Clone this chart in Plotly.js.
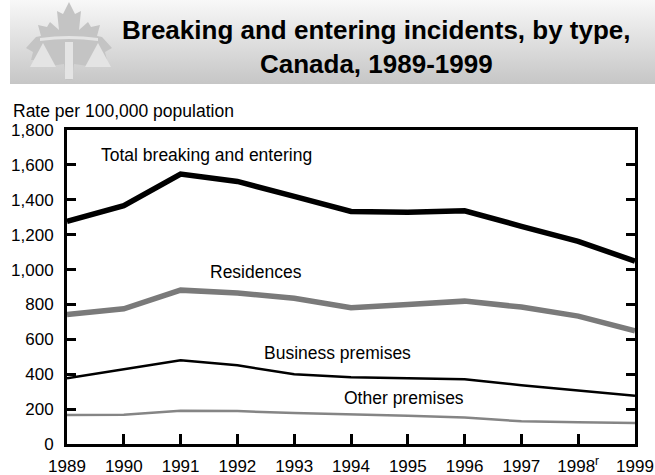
<!DOCTYPE html>
<html>
<head>
<meta charset="utf-8">
<script src="https://cdn.plot.ly/plotly-3.0.1.min.js"></script>
<style>
  html, body { margin: 0; padding: 0; background: #ffffff; }
  #chart { width: 655px; height: 475px; }
</style>
</head>
<body>
<div id="chart"></div>
<script>
// Breaking and entering rates per 100,000 population, Canada
const years = [1989, 1990, 1991, 1992, 1993, 1994, 1995, 1996, 1997, 1998, 1999];
const yearLabels = ['1989', '1990', '1991', '1992', '1993', '1994', '1995', '1996', '1997', '1998<sup>r</sup>', '1999'];
const totalBE = [1276, 1366, 1547, 1505, 1419, 1333, 1328, 1337, 1248, 1162, 1048];
const residences = [743, 775, 882, 866, 835, 781, 800, 819, 785, 733, 648];
const business = [377, 429, 480, 451, 400, 382, 375, 371, 337, 305, 276];
const otherPremises = [166, 168, 190, 189, 177, 171, 162, 152, 130, 124, 120];
const yTickVals = [0, 200, 400, 600, 800, 1000, 1200, 1400, 1600, 1800];
const yTickLabels = ['0', '200', '400', '600', '800', '1,000', '1,200', '1,400', '1,600', '1,800'];

const W = 655, H = 475;
const M = { l: 67, r: 20, t: 130, b: 31 };
const plotW = W - M.l - M.r, plotH = H - M.t - M.b;
const px = x => (x - M.l) / plotW;        // page pixel -> paper x
const py = y => (H - M.b - y) / plotH;    // page pixel -> paper y

const FONT = 'Liberation Sans, Arial, Helvetica, sans-serif';

// Header band: soft grey gradient with the maple-leaf / scales emblem
const headerSvg =
  '<svg xmlns="http://www.w3.org/2000/svg" width="645" height="84" viewBox="0 0 645 84">' +
  '<defs><linearGradient id="g" x1="0" y1="0" x2="0" y2="1">' +
  '<stop offset="0" stop-color="#f8f8f8"/><stop offset="1" stop-color="#c6c6c6"/></linearGradient></defs>' +
  '<rect width="645" height="84" fill="url(#g)"/>' +
  '<g transform="translate(-8,0)">' +
  '<polygon fill="#c4c4c4" points="67,2 73,14 79,11 77,30 86,22 89,27 98,25 95,36 100,37 110,48 103,52 105,60 90,60 86,66 72,64 70,80 64,80 62,64 48,66 44,60 29,60 31,52 24,48 34,37 39,36 36,25 45,27 48,22 57,30 55,11 61,14"/>' +
  '<path fill="#e4e4e4" d="M38,38 Q67,34 96,38 L96,41 Q67,37 38,41 Z"/>' +
  '<rect fill="#e4e4e4" x="63" y="42" width="8" height="37"/>' +
  '<polygon fill="#e4e4e4" points="41,43 28,67 54,67"/>' +
  '<polygon fill="#e4e4e4" points="96,43 83,67 109,67"/>' +
  '</g></svg>';
const headerSrc = 'data:image/svg+xml;charset=utf-8,' + encodeURIComponent(headerSvg);

function series(y, color, width) {
  return {
    x: years, y: y, type: 'scatter', mode: 'lines',
    line: { color: color, width: width, shape: 'linear' },
    hoverinfo: 'skip', showlegend: false
  };
}

const data = [
  series(otherPremises, '#858585', 2.5),
  series(business, '#000000', 2.5),
  series(residences, '#7a7a7a', 5.5),
  series(totalBE, '#000000', 5.5)
];

const labelFont = { family: FONT, size: 17.5, color: '#000000' };
const tickFont = { family: FONT, size: 17, color: '#000000' };

const layout = {
  width: W, height: H,
  margin: M,
  paper_bgcolor: '#ffffff',
  plot_bgcolor: '#ffffff',
  showlegend: false,
  font: { family: FONT, size: 17, color: '#000000' },
  xaxis: {
    range: [1989, 1999],
    tickmode: 'array', tickvals: years, ticktext: yearLabels,
    ticks: 'inside', ticklen: 10, tickwidth: 3, tickcolor: '#000000',
    showline: true, linewidth: 3, linecolor: '#000000', mirror: true,
    showgrid: false, zeroline: false, fixedrange: true,
    ticklabelstandoff: 5,
    tickfont: tickFont
  },
  yaxis: {
    range: [0, 1800],
    tickmode: 'array', tickvals: yTickVals, ticktext: yTickLabels,
    ticks: 'inside', ticklen: 9, tickwidth: 3, tickcolor: '#000000',
    showline: true, linewidth: 3, linecolor: '#000000', mirror: 'ticks',
    showgrid: false, zeroline: false, fixedrange: true,
    ticklabelstandoff: 7,
    tickfont: tickFont
  },
  images: [{
    source: headerSrc, xref: 'paper', yref: 'paper',
    x: px(10), y: py(0), sizex: 645 / plotW, sizey: 84 / plotH,
    xanchor: 'left', yanchor: 'top', sizing: 'stretch', layer: 'below'
  }],
  annotations: [
    {
      text: '<b>Breaking and entering incidents, by type,<br>Canada, 1989-1999</b>',
      xref: 'paper', yref: 'paper', x: px(376), y: py(47),
      xanchor: 'center', yanchor: 'middle', showarrow: false, align: 'center',
      font: { family: FONT, size: 26, color: '#000000' }
    },
    {
      text: 'Rate per 100,000 population',
      xref: 'paper', yref: 'paper', x: px(11), y: py(111),
      xanchor: 'left', yanchor: 'middle', showarrow: false,
      font: labelFont
    },
    { text: 'Total breaking and entering', x: 1991.45, y: 1657, xref: 'x', yref: 'y',
      showarrow: false, xanchor: 'center', yanchor: 'middle', font: labelFont },
    { text: 'Residences', x: 1992.33, y: 985, xref: 'x', yref: 'y',
      showarrow: false, xanchor: 'center', yanchor: 'middle', font: labelFont },
    { text: 'Business premises', x: 1993.77, y: 520, xref: 'x', yref: 'y',
      showarrow: false, xanchor: 'center', yanchor: 'middle', font: labelFont },
    { text: 'Other premises', x: 1994.94, y: 263, xref: 'x', yref: 'y',
      showarrow: false, xanchor: 'center', yanchor: 'middle', font: labelFont }
  ]
};

Plotly.newPlot('chart', data, layout, { displayModeBar: false, staticPlot: true });
</script>
</body>
</html>
